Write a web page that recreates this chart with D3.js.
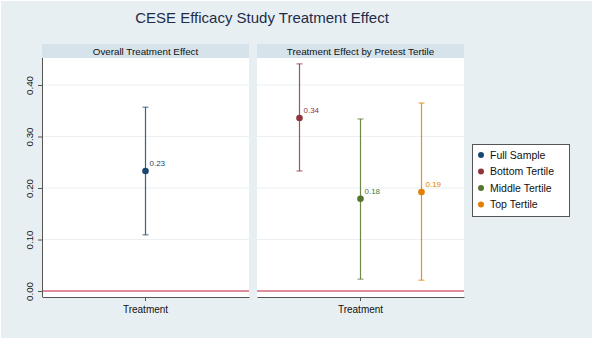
<!DOCTYPE html>
<html>
<head>
<meta charset="utf-8">
<script src="https://cdn.jsdelivr.net/npm/d3@7"></script>
<style>
  body { margin: 0; background: #fff; }
  svg { display: block; font-family: "Liberation Sans", Arial, sans-serif; }
</style>
</head>
<body>
<div id="chart"></div>
<script>
// data
const overallSeries = ["Full Sample"];
const overallEst = [0.233];
const overallLo = [0.109];
const overallHi = [0.357];

const tertiles = ["Bottom Tertile", "Middle Tertile", "Top Tertile"];
const tertileEst = [0.336, 0.179, 0.192];
const tertileLo = [0.233, 0.023, 0.021];
const tertileHi = [0.441, 0.334, 0.365];
const pointLabels = ["0.34", "0.18", "0.19"];

const legendNames = ["Full Sample", "Bottom Tertile", "Middle Tertile", "Top Tertile"];
const colors = ["#1a476f", "#90353b", "#55752f", "#e37e00"];
const yTicks = [0, 0.1, 0.2, 0.3, 0.4];
const category = ["Treatment"];

const width = 593, height = 340;
const plotTop = 58, plotBottom = 297;

const svg = d3.select("#chart").append("svg")
  .attr("width", width).attr("height", height);

// background
svg.append("rect").attr("x", 1).attr("y", 1).attr("width", width - 2).attr("height", height - 3)
  .attr("fill", "#e8eff2");

// title
svg.append("text").attr("x", 262).attr("y", 23).attr("text-anchor", "middle")
  .attr("font-size", "15px").attr("fill", "#1e2d4a")
  .text("CESE Efficacy Study Treatment Effect");

const y = d3.scaleLinear()
  .domain([0, 0.4])
  .range([291, 85]);

const color = d3.scaleOrdinal().domain(legendNames).range(colors);

const panels = [
  { title: "Overall Treatment Effect", x0: 42, x1: 249, left: true },
  { title: "Treatment Effect by Pretest Tertile", x0: 257, x1: 464, left: false }
];

panels.forEach(function(p) {
  const g = svg.append("g");
  // strip
  g.append("rect").attr("x", p.x0).attr("y", 44).attr("width", p.x1 - p.x0).attr("height", 14)
    .attr("fill", "#d6e3ea");
  g.append("text").attr("x", (p.x0 + p.x1) / 2).attr("y", 55).attr("text-anchor", "middle")
    .attr("font-size", "9.8px").attr("fill", "#111").text(p.title);
  // plot region
  g.append("rect").attr("x", p.x0).attr("y", plotTop).attr("width", p.x1 - p.x0)
    .attr("height", plotBottom - plotTop).attr("fill", "#fff");
  // gridlines
  g.selectAll(".grid").data(yTicks.filter(d => d > 0)).join("line")
    .attr("x1", p.x0).attr("x2", p.x1)
    .attr("y1", d => y(d)).attr("y2", d => y(d))
    .attr("stroke", "#eaf0f3").attr("stroke-width", 1);
  // zero line
  g.append("line").attr("x1", p.x0).attr("x2", p.x1)
    .attr("y1", y(0)).attr("y2", y(0))
    .attr("stroke", "#d4677d").attr("stroke-width", 1.4);

  p.x = d3.scaleBand().domain(category).range([p.x0, p.x1]);

  // bottom axis
  const xAxis = g.append("g").attr("transform", `translate(0,${plotBottom})`)
    .call(d3.axisBottom(p.x).tickSize(4).tickSizeOuter(0));
  xAxis.select(".domain").attr("stroke", "#555");
  xAxis.selectAll(".tick line").attr("stroke", "#555");
  xAxis.selectAll("text").attr("font-size", "10px").attr("fill", "#111")
    .attr("font-family", "Liberation Sans, Arial, sans-serif").attr("dy", "0.85em");

  if (p.left) {
    const yAxis = g.append("g").attr("transform", `translate(${p.x0},0)`)
      .call(d3.axisLeft(y).tickValues(yTicks).tickFormat(d3.format(".2f")).tickSize(4).tickSizeOuter(0));
    yAxis.select(".domain").attr("stroke", "#555")
      .attr("d", `M0.5,${plotTop}V${plotBottom}`);
    yAxis.selectAll(".tick line").attr("stroke", "#555");
    yAxis.selectAll("text")
      .attr("font-size", "9.8px").attr("fill", "#111")
      .attr("font-family", "Liberation Sans, Arial, sans-serif")
      .attr("transform", "rotate(-90)")
      .attr("x", 0).attr("y", -9)
      .attr("dy", 0)
      .attr("text-anchor", "middle");
  }
});

// error bar drawing helper
function drawCI(g, cx, est, lo, hi, col, label) {
  g.append("line").attr("x1", cx).attr("x2", cx).attr("y1", y(lo)).attr("y2", y(hi))
    .attr("stroke", col).attr("stroke-width", 1.2).attr("stroke-opacity", 0.85);
  [lo, hi].forEach(v => {
    g.append("line").attr("x1", cx - 3).attr("x2", cx + 3).attr("y1", y(v)).attr("y2", y(v))
      .attr("stroke", col).attr("stroke-width", 1).attr("stroke-opacity", 0.8);
  });
  g.append("circle").attr("cx", cx).attr("cy", y(est)).attr("r", 3.3).attr("fill", col);
  g.append("text").attr("x", cx + 4).attr("y", y(est) - 5)
    .attr("font-size", "8px").attr("fill", col).text(label);
}

// panel 1
const p1 = panels[0];
const g1 = svg.append("g");
overallEst.forEach((e, i) => {
  const cx = p1.x("Treatment") + p1.x.bandwidth() / 2;
  drawCI(g1, cx, e, overallLo[i], overallHi[i], color(overallSeries[i]), d3.format(".2f")(e));
});

// panel 2
const p2 = panels[1];
const center2 = p2.x("Treatment") + p2.x.bandwidth() / 2;
const xOff = d3.scalePoint().domain(tertiles).range([center2 - 61, center2 + 61]);
const g2 = svg.append("g");
tertiles.forEach((t, i) => {
  drawCI(g2, xOff(t), tertileEst[i], tertileLo[i], tertileHi[i], color(t), pointLabels[i]);
});

// legend
const lg = svg.append("g");
lg.append("rect").attr("x", 472.5).attr("y", 144.5).attr("width", 97).attr("height", 72)
  .attr("fill", "#fff").attr("stroke", "#555").attr("stroke-width", 1);
legendNames.forEach((n, i) => {
  const yy = 155 + i * 16.5;
  lg.append("circle").attr("cx", 481).attr("cy", yy).attr("r", 3).attr("fill", color(n));
  lg.append("text").attr("x", 490).attr("y", yy + 3.8).attr("font-size", "10.5px")
    .attr("fill", "#111").text(n);
});
</script>
</body>
</html>
